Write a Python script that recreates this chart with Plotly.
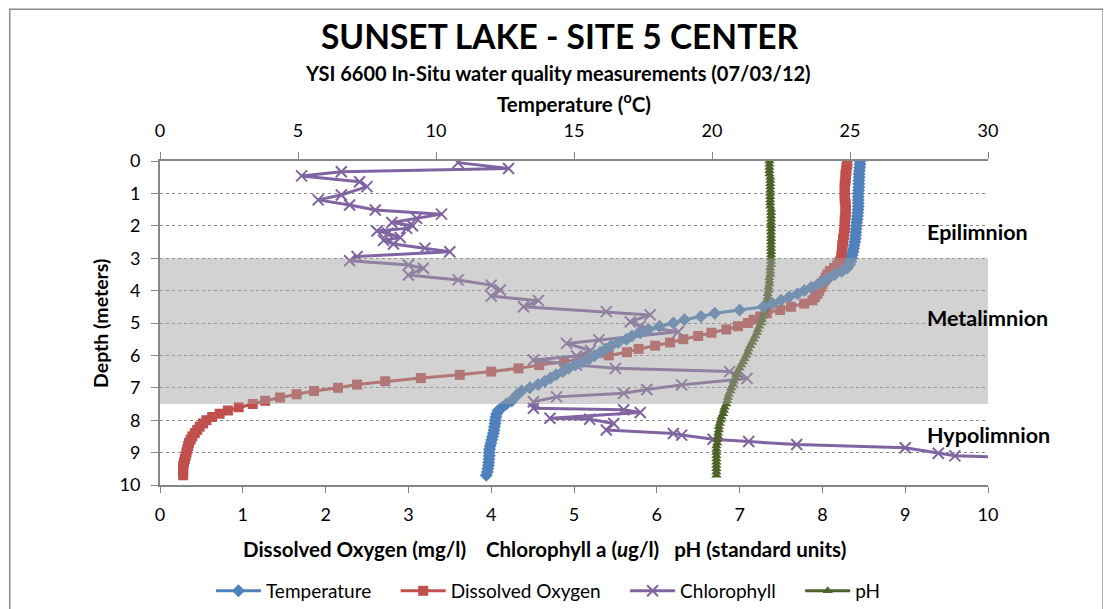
import plotly.graph_objects as go

# profile depths (m) shared by temperature, dissolved oxygen and pH
depth = [0.0, 0.1, 0.2, 0.3, 0.4, 0.5, 0.6, 0.7, 0.8, 0.9,
         1.0, 1.1, 1.2, 1.3, 1.4, 1.5, 1.6, 1.7, 1.8, 1.9,
         2.0, 2.1, 2.2, 2.3, 2.4, 2.5, 2.6, 2.7, 2.8, 2.9,
         3.0, 3.1, 3.2, 3.3, 3.4, 3.5, 3.6, 3.7, 3.8, 3.9,
         4.0, 4.1, 4.2, 4.3, 4.4, 4.5, 4.6, 4.7, 4.8, 4.9,
         5.0, 5.1, 5.2, 5.3, 5.4, 5.5, 5.6, 5.7, 5.8, 5.9,
         6.0, 6.1, 6.2, 6.3, 6.4, 6.5, 6.6, 6.7, 6.8, 6.9,
         7.0, 7.1, 7.2, 7.3, 7.4, 7.5, 7.6, 7.7, 7.8, 7.9,
         8.0, 8.1, 8.2, 8.3, 8.4, 8.5, 8.6, 8.7, 8.8, 8.9,
         9.0, 9.1, 9.2, 9.3, 9.4, 9.5, 9.6, 9.7]

temperature = [25.36, 25.36, 25.35, 25.34, 25.33, 25.33, 25.32, 25.32, 25.32, 25.31,
               25.30, 25.30, 25.30, 25.30, 25.30, 25.29, 25.28, 25.27, 25.26, 25.24,
               25.23, 25.22, 25.21, 25.20, 25.19, 25.17, 25.15, 25.13, 25.11, 25.08,
               25.06, 25.03, 24.98, 24.90, 24.70, 24.45, 24.25, 24.05, 23.85, 23.60,
               23.35, 23.10, 22.80, 22.50, 22.20, 21.86, 21.00, 20.10, 19.60, 19.00,
               18.60, 18.10, 17.70, 17.40, 17.10, 16.90, 16.60, 16.35, 16.15, 15.95,
               15.75, 15.55, 15.30, 15.05, 14.80, 14.60, 14.35, 14.15, 13.95, 13.70,
               13.40, 13.10, 12.95, 12.85, 12.75, 12.55, 12.40, 12.25, 12.20, 12.17,
               12.15, 12.14, 12.12, 12.10, 12.08, 12.05, 12.02, 11.99, 11.96, 11.94,
               11.93, 11.93, 11.92, 11.91, 11.90, 11.88, 11.86, 11.82]

dissolved_oxygen = [8.30, 8.30, 8.29, 8.29, 8.28, 8.28, 8.28, 8.27, 8.27, 8.27,
                    8.27, 8.27, 8.27, 8.28, 8.28, 8.28, 8.28, 8.28, 8.27, 8.27,
                    8.27, 8.27, 8.26, 8.26, 8.25, 8.25, 8.24, 8.24, 8.24, 8.23,
                    8.23, 8.21, 8.18, 8.14, 8.09, 8.06, 8.04, 8.02, 8.00, 7.98,
                    7.96, 7.94, 7.91, 7.88, 7.78, 7.62, 7.49, 7.33, 7.25, 7.17,
                    7.10, 6.98, 6.84, 6.66, 6.50, 6.32, 6.16, 5.98, 5.78, 5.64,
                    5.42, 5.10, 4.88, 4.58, 4.33, 4.00, 3.62, 3.15, 2.72, 2.38,
                    2.15, 1.86, 1.65, 1.45, 1.27, 1.12, 0.95, 0.82, 0.72, 0.63,
                    0.56, 0.52, 0.48, 0.45, 0.42, 0.39, 0.37, 0.35, 0.34, 0.33,
                    0.32, 0.31, 0.30, 0.29, 0.28, 0.28, 0.28, 0.28]

ph = [7.36, 7.36, 7.36, 7.36, 7.36, 7.37, 7.37, 7.37, 7.37, 7.37,
      7.37, 7.37, 7.37, 7.37, 7.37, 7.38, 7.38, 7.38, 7.38, 7.38,
      7.38, 7.38, 7.38, 7.38, 7.38, 7.38, 7.38, 7.38, 7.38, 7.38,
      7.38, 7.38, 7.38, 7.37, 7.37, 7.37, 7.36, 7.36, 7.36, 7.35,
      7.35, 7.34, 7.34, 7.33, 7.32, 7.32, 7.31, 7.30, 7.28, 7.27,
      7.26, 7.24, 7.22, 7.21, 7.19, 7.17, 7.15, 7.13, 7.11, 7.10,
      7.08, 7.06, 7.04, 7.02, 7.00, 6.98, 6.96, 6.95, 6.93, 6.92,
      6.90, 6.89, 6.87, 6.86, 6.85, 6.84, 6.82, 6.81, 6.80, 6.78,
      6.77, 6.76, 6.75, 6.75, 6.74, 6.74, 6.73, 6.73, 6.72, 6.72,
      6.72, 6.72, 6.72, 6.72, 6.72, 6.72, 6.72, 6.72]

chl_depth = [0.05, 0.23, 0.33, 0.46, 0.64, 0.79, 1.05, 1.20, 1.36, 1.51, 1.64, 1.77, 1.90, 2.00,
             2.08, 2.16, 2.23, 2.36, 2.45, 2.56, 2.69, 2.80, 2.95, 3.08, 3.21, 3.31, 3.52, 3.67,
             3.83, 3.98, 4.17, 4.31, 4.50, 4.65, 4.75, 4.96, 5.10, 5.27, 5.52, 5.63, 5.85, 6.02,
             6.14, 6.30, 6.40, 6.50, 6.71, 6.91, 7.05, 7.17, 7.28, 7.43, 7.63, 7.68, 7.76, 7.94,
             7.97, 8.10, 8.30, 8.41, 8.46, 8.59, 8.66, 8.75, 8.85, 9.02, 9.10, 9.20]
chlorophyll = [3.60, 4.21, 2.19, 1.71, 2.41, 2.50, 2.19, 1.91, 2.29, 2.60, 3.40, 3.10, 2.80, 3.05,
               2.98, 2.62, 2.75, 2.90, 2.70, 2.82, 3.20, 3.50, 2.38, 2.29, 3.00, 3.18, 3.00, 3.60,
               4.00, 4.11, 4.00, 4.57, 4.39, 5.39, 5.92, 5.68, 5.80, 6.26, 5.30, 4.91, 5.20, 5.03,
               4.51, 5.03, 5.50, 6.88, 7.09, 6.30, 5.88, 5.60, 4.79, 4.51, 4.51, 5.60, 5.80, 4.71,
               5.19, 5.48, 5.39, 6.20, 6.30, 6.68, 7.11, 7.69, 9.00, 9.40, 9.60, 11.00]

zones = [("Epilimnion", 2.19), ("Metalimnion", 4.85), ("Hypolimnion", 8.46)]

FONT = "Lato, Carlito, Calibri, sans-serif"
AXIS_GRAY = "#868686"
PAD = "\u00a0" * 4  # extra gap after each legend entry, as in the Excel legend

fig = go.Figure()

fig.add_trace(go.Scatter(
    x=temperature, y=depth, xaxis="x2", yaxis="y", name="Temperature" + PAD,
    mode="lines+markers", line={"color": "#4F81BD", "width": 3},
    marker={"symbol": "diamond", "size": 10, "color": "#4F81BD"},
))
fig.add_trace(go.Scatter(
    x=dissolved_oxygen, y=depth, name="Dissolved Oxygen" + PAD,
    mode="lines+markers", line={"color": "#C0504D", "width": 3},
    marker={"symbol": "square", "size": 10, "color": "#C0504D"},
))
fig.add_trace(go.Scatter(
    x=chlorophyll, y=chl_depth, name="Chlorophyll" + PAD,
    mode="lines+markers", line={"color": "#8064A2", "width": 3},
    marker={"symbol": "x-thin-open", "size": 11, "color": "#8064A2",
            "line": {"color": "#8064A2", "width": 2}},
))
fig.add_trace(go.Scatter(
    x=ph, y=depth, name="pH",
    mode="lines+markers", line={"color": "#4F6228", "width": 3},
    marker={"symbol": "triangle-up", "size": 9, "color": "#4F6228"},
))

# metalimnion band drawn over the traces, semi-transparent
fig.add_shape(type="rect", xref="paper", yref="y", x0=0, x1=1, y0=3, y1=7.5,
              fillcolor="rgba(160,160,160,0.48)", line={"width": 0}, layer="above")

# outer chart border
fig.add_shape(type="rect", xref="paper", yref="paper", x0=-0.1815, x1=1.139, y0=-0.42, y1=1.468,
              line={"color": "#8C8C8C", "width": 1.5}, fillcolor="rgba(0,0,0,0)")

for label, d in zones:
    fig.add_annotation(text=f"<b>{label}</b>", xref="paper", yref="y", x=0.924, y=d,
                       xanchor="left", yanchor="middle", showarrow=False,
                       font={"size": 21.5, "color": "black", "family": FONT})

fig.add_annotation(text="<b>YSI 6600 In-Situ water quality measurements (07/03/12)</b>",
                   xref="paper", yref="paper", x=0.481, y=1.272, xanchor="center", yanchor="middle",
                   showarrow=False, font={"size": 20, "color": "black", "family": FONT})
fig.add_annotation(text="<b>Temperature (<sup>o</sup>C)</b>",
                   xref="paper", yref="paper", x=0.5, y=1.18, xanchor="center", yanchor="middle",
                   showarrow=False, font={"size": 20.5, "color": "black", "family": FONT})
fig.add_annotation(text="<b>Dissolved Oxygen (mg/l)\u00a0\u00a0\u00a0 Chlorophyll a (<i>u</i>g/l)\u00a0\u00a0 pH (standard units)</b>",
                   xref="paper", yref="paper", x=0.464, y=-0.198, xanchor="center", yanchor="middle",
                   showarrow=False, font={"size": 20.5, "color": "black", "family": FONT})
fig.add_annotation(text="<b>Depth (meters)</b>", textangle=-90,
                   xref="paper", yref="paper", x=-0.0725, y=0.5, xanchor="center", yanchor="middle",
                   showarrow=False, font={"size": 19.5, "color": "black", "family": FONT})

tick_font = {"size": 18, "color": "black", "family": FONT}

# the page body adds an 8px offset, so the figure is 8px smaller than the window
fig.update_layout(
    width=1103, height=601,
    margin={"l": 152, "r": 123, "t": 153, "b": 124},
    paper_bgcolor="white", plot_bgcolor="white",
    font={"family": FONT, "color": "black"},
    title={"text": "<b>SUNSET LAKE - SITE 5 CENTER</b>", "x": 0.5, "xanchor": "center",
           "xref": "container", "y": 0.952, "yanchor": "middle",
           "font": {"size": 33.5, "color": "black", "family": FONT}},
    xaxis={"range": [0, 10], "dtick": 1, "showgrid": False, "zeroline": False,
           "showline": True, "linecolor": AXIS_GRAY, "linewidth": 2,
           "ticks": "outside", "ticklen": 6, "tickcolor": AXIS_GRAY, "tickfont": tick_font,
           "ticklabelstandoff": 6},
    xaxis2={"range": [0, 30], "dtick": 5, "overlaying": "x", "side": "top", "anchor": "y",
            "showgrid": False, "zeroline": False,
            "showline": True, "linecolor": AXIS_GRAY, "linewidth": 2,
            "ticks": "outside", "ticklen": 7, "tickcolor": AXIS_GRAY, "tickfont": tick_font,
            "ticklabelstandoff": 8},
    yaxis={"range": [10, 0], "dtick": 1, "showgrid": True, "gridcolor": "#8C8C8C",
           "griddash": "dot", "gridwidth": 1, "zeroline": False,
           "showline": True, "linecolor": AXIS_GRAY, "linewidth": 2,
           "ticks": "outside", "ticklen": 7, "tickcolor": AXIS_GRAY, "tickfont": tick_font,
           "ticklabelstandoff": 7},
    showlegend=True,
    legend={"orientation": "h", "xref": "container", "yref": "container",
            "x": 0.184, "xanchor": "left", "y": 0.03, "yanchor": "middle",
            "itemwidth": 45,
            "font": {"size": 19, "color": "black", "family": FONT},
            "bgcolor": "rgba(0,0,0,0)"},
)

fig.write_html("out.html")
